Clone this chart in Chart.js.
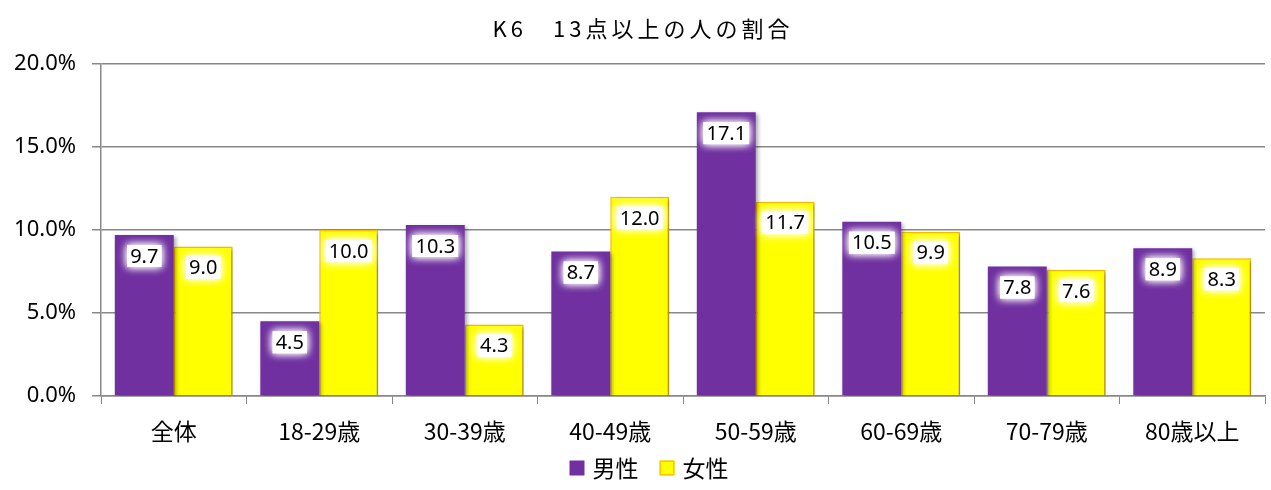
<!DOCTYPE html>
<html><head><meta charset="utf-8">
<script src="https://cdn.jsdelivr.net/npm/chart.js@4.4.0/dist/chart.umd.min.js"></script>
<style>html,body{margin:0;padding:0;background:#fff}#wrap{width:1271px;height:490px}</style>
</head><body><div id="wrap"><canvas id="c" width="1271" height="490"></canvas></div>
<script>
const categories = ['全体','18-29歳','30-39歳','40-49歳','50-59歳','60-69歳','70-79歳','80歳以上'];
const male = [9.7,4.5,10.3,8.7,17.1,10.5,7.8,8.9];
const female = [9.0,10.0,4.3,12.0,11.7,9.9,7.6,8.3];
const seriesNames = ['男性','女性'];
const yTicks = [0,5,10,15,20];
const titleText = 'K6　13点以上の人の割合';

function spacedText(c,text,cx,cy,sp){
  const chars=[...text];
  const ws=chars.map(ch=>c.measureText(ch).width);
  const total=ws.reduce((a,b)=>a+b,0)+sp*(chars.length-1);
  let x=cx-total/2;
  chars.forEach((ch,i)=>{c.fillText(ch,x,cy);x+=ws[i]+sp;});
}
const titlePlugin = {
  id:'spacedTitle',
  afterDraw(chart){
    const c=chart.ctx;
    c.save();
    c.font='22px "Noto Sans CJK JP"';
    c.fillStyle='#000';
    c.textAlign='left';c.textBaseline='middle';
    spacedText(c,titleText,641,29,4);
    c.restore();
  }
};
const legendPlugin = {
  id:'customLegend',
  afterDraw(chart){
    const c=chart.ctx;
    const ds=chart.data.datasets;
    c.save();
    c.font='23px "Noto Sans CJK JP"';
    c.textBaseline='middle';c.textAlign='left';
    const box=15, gapBox=8, gapItem=21, cy=468;
    const widths=ds.map(d=>box+gapBox+c.measureText(d.label).width);
    const total=widths.reduce((a,b)=>a+b,0)+gapItem*(ds.length-1);
    let x=649-total/2;
    ds.forEach((d,i)=>{
      c.fillStyle=d.backgroundColor;
      c.fillRect(x,cy-box/2,box,box);
      if(d.borderWidth){c.strokeStyle=d.borderColor;c.lineWidth=1.5;c.strokeRect(x+0.75,cy-box/2+0.75,box-1.5,box-1.5);}
      c.fillStyle='#000';
      c.fillText(d.label,x+box+gapBox,cy);
      x+=widths[i]+gapItem;
    });
    c.restore();
  }
};
const shadowPlugin = {
  id:'shadow',
  beforeDatasetsDraw(chart){const c=chart.ctx;c.save();c.shadowColor='rgba(0,0,0,0.35)';c.shadowBlur=4;c.shadowOffsetX=2;c.shadowOffsetY=2;},
  afterDatasetsDraw(chart){chart.ctx.restore();}
};
const labelPlugin = {
  id:'vlabels',
  afterDatasetsDraw(chart){
    const c=chart.ctx;
    c.save();
    c.font='20px "Noto Sans"';
    c.textAlign='center';c.textBaseline='middle';
    chart.data.datasets.forEach((ds,i)=>{
      chart.getDatasetMeta(i).data.forEach((el,j)=>{
        const t=ds.data[j].toFixed(1);
        const w=c.measureText(t).width+6, h=22;
        const cy=el.y+21;
        c.save();
        c.shadowColor='rgba(255,255,255,1)';c.shadowBlur=8;
        c.fillStyle='#fff';
        c.fillRect(el.x-w/2,cy-h/2,w,h);
        c.fillRect(el.x-w/2,cy-h/2,w,h);
        c.restore();
        c.fillStyle='#000';
        c.fillText(t,el.x,cy+1);
      });
    });
    c.restore();
  }
};

new Chart(document.getElementById('c'),{
  type:'bar',
  data:{labels:categories,datasets:[
    {label:seriesNames[0],data:male,backgroundColor:'#7030A0',borderColor:'#7030A0',borderWidth:0,categoryPercentage:0.81,barPercentage:1},
    {label:seriesNames[1],data:female,backgroundColor:'#FFFF00',borderColor:'#FFC000',borderWidth:1.5,categoryPercentage:0.81,barPercentage:1}
  ]},
  options:{
    responsive:false,animation:false,
    layout:{padding:{left:0,right:6,top:64,bottom:0}},
    plugins:{
      title:{display:false},
      legend:{display:false},
      tooltip:{enabled:false}
    },
    scales:{
      x:{
        grid:{drawOnChartArea:false,drawTicks:true,tickLength:8,color:'#888',offset:true},
        border:{color:'#888',width:1.5},
        ticks:{color:'#000',font:{family:'"Noto Sans CJK JP"',size:23},padding:13,maxRotation:0},
        afterFit(s){s.height=s.chart.height-396;}
      },
      y:{
        min:0,max:20,
        afterBuildTicks(s){s.ticks=yTicks.map(v=>({value:v}));},
        grid:{color:'#888',lineWidth:1.5,tickLength:9},
        border:{color:'#888',width:1.5},
        ticks:{color:'#000',font:{family:'"Noto Sans"',size:22},padding:16,callback:v=>v.toFixed(1)+'%'},
        afterFit(s){s.width=101;}
      }
    }
  },
  plugins:[shadowPlugin,labelPlugin,titlePlugin,legendPlugin]
});
</script></body></html>
